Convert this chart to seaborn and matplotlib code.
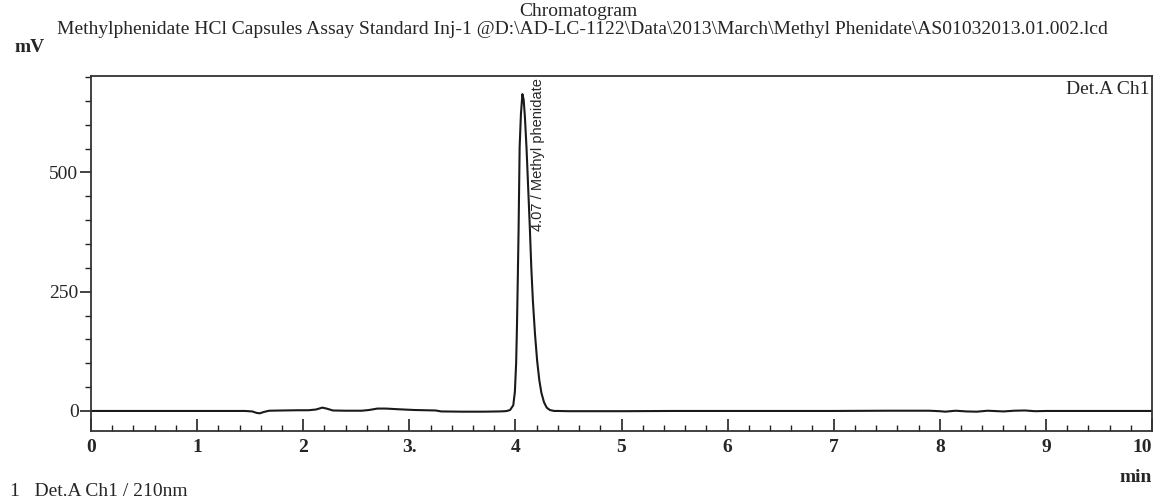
import numpy as np
import pandas as pd
import matplotlib
matplotlib.use("Agg")
import matplotlib.pyplot as plt
import seaborn as sns
from matplotlib.ticker import MultipleLocator

# ---- data ----
time_min = [0.00, 0.50, 1.00, 1.45, 1.52, 1.56, 1.59, 1.63, 1.68, 1.80, 1.95, 2.05,
            2.12, 2.18, 2.22, 2.28, 2.40, 2.55, 2.62, 2.70, 2.78, 2.86, 2.95, 3.05,
            3.15, 3.25, 3.30, 3.50, 3.70, 3.85, 3.90,
            3.92, 3.95, 3.98, 3.995, 4.007, 4.015, 4.022, 4.030, 4.040, 4.052, 4.066,
            4.078, 4.090, 4.105, 4.120, 4.135, 4.150, 4.165, 4.185, 4.205, 4.225,
            4.245, 4.270, 4.295, 4.325, 4.365,
            4.40, 4.50, 5.00, 5.50, 6.00, 7.00, 7.50, 7.90, 8.00, 8.05, 8.15, 8.25,
            8.35, 8.45, 8.60, 8.70, 8.80, 8.90, 9.00, 9.50, 10.00]
signal_mv = [0.0, 0.0, 0.0, 0.0, -1.0, -4.0, -5.0, -2.0, 0.5, 1.0, 1.5, 1.5,
             3.0, 7.0, 5.0, 1.0, 0.5, 0.5, 2.0, 5.0, 5.0, 4.0, 3.0, 2.0,
             1.5, 1.0, -1.0, -1.5, -1.5, -1.0, -0.5,
             0.0, 2.0, 12.0, 40.0, 100.0, 180.0, 270.0, 380.0, 553.0, 622.0, 664.0,
             652.0, 615.0, 550.0, 470.0, 390.0, 300.0, 230.0, 160.0, 105.0, 65.0,
             38.0, 18.0, 7.0, 2.0, 0.0,
             0.0, -0.5, -0.5, 0.0, 0.0, 0.0, 0.5, 0.5, -0.5, -1.5, 0.5, -1.0,
             -1.5, 0.5, -1.0, 0.5, 1.0, -0.5, 0.0, 0.0, 0.0]
x_ticks = [0, 1, 2, 3, 4, 5, 6, 7, 8, 9, 10]
x_tick_labels = ["0", "1", "2", "3.", "4", "5", "6", "7", "8", "9", "10"]
y_ticks = [0, 250, 500]
peak_label = "4.07 / Methyl phenidate"
peak_time = 4.07

df = pd.DataFrame({"time": time_min, "mV": signal_mv})

sns.set_theme(style="ticks")
plt.rcParams["font.family"] = ["Liberation Serif", "DejaVu Serif"]

FS = 14
fig = plt.figure(figsize=(11.57, 5.04), dpi=100)
ax = fig.add_axes([91/1157, 1 - 431/504, (1152-91)/1157, (431-76)/504])

sns.lineplot(data=df, x="time", y="mV", ax=ax, color="#1a1a1a", linewidth=1.5,
             estimator=None, sort=False)

ax.set_xlim(0, 10)
ax.set_ylim(-42, 702)
ax.set_xlabel("")
ax.set_ylabel("")

ax.set_xticks(x_ticks)
ax.set_xticklabels(x_tick_labels, fontsize=FS, fontweight="bold")
ax.get_xticklabels()[-1].set_horizontalalignment("right")
ax.xaxis.set_minor_locator(MultipleLocator(0.2))
ax.set_yticks(y_ticks)
ax.set_yticklabels([str(v) for v in y_ticks], fontsize=FS)
ax.yaxis.set_minor_locator(MultipleLocator(50))

ax.tick_params(axis="x", which="major", direction="in", length=9, width=1.2,
               color="#222222", pad=6)
ax.tick_params(axis="x", which="minor", direction="in", length=4.5, width=1.0,
               color="#222222")
ax.tick_params(axis="y", which="major", direction="out", length=8, width=1.2,
               color="#222222", pad=1)
ax.tick_params(axis="y", which="minor", direction="out", length=4.5, width=1.0,
               color="#222222")

for s in ax.spines.values():
    s.set_visible(True)
    s.set_color("#333333")
    s.set_linewidth(1.3)

ax.text(peak_time + 0.14, 697, peak_label, rotation=90, ha="center", va="top",
        fontsize=10.5, family=["Liberation Sans", "DejaVu Sans"])
ax.text(0.998, 0.985, "Det.A Ch1", transform=ax.transAxes, ha="right", va="top",
        fontsize=FS)

fig.text(0.5, 1 - 12/504, "Chromatogram", ha="center", va="center", fontsize=FS)
fig.text(0.503, 1 - 30/504,
         "Methylphenidate HCl Capsules Assay Standard Inj-1 @D:\\AD-LC-1122\\Data\\2013\\March\\Methyl Phenidate\\AS01032013.01.002.lcd",
         ha="center", va="center", fontsize=FS)
fig.text(30/1157, 1 - 48/504, "mV", ha="center", va="center", fontsize=FS,
         fontweight="bold")
fig.text(1152/1157, 1 - 478/504, "min", ha="right", va="center", fontsize=FS,
         fontweight="bold")
fig.text(10/1157, 1 - 492/504, "1   Det.A Ch1 / 210nm", ha="left", va="center",
         fontsize=FS)

fig.savefig("out.png", dpi=100, facecolor="white")
